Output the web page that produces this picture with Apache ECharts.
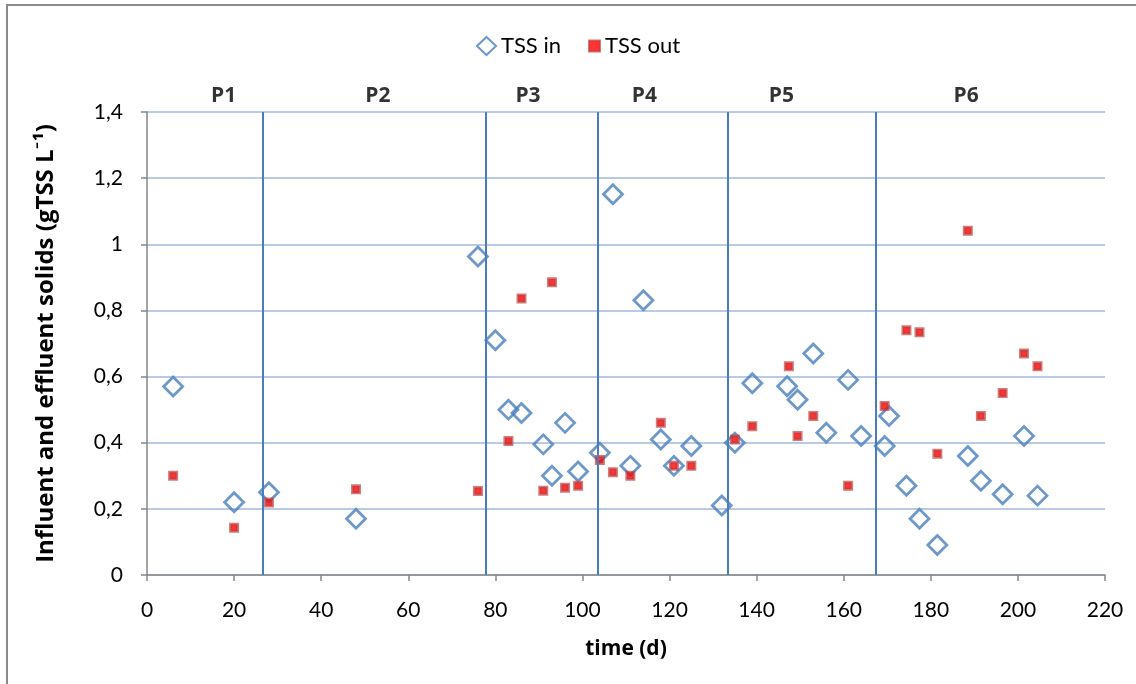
<!DOCTYPE html>
<html>
<head>
<meta charset="utf-8">
<script src="https://cdn.jsdelivr.net/npm/echarts@6/dist/echarts.min.js"></script>
<style>
  html, body { margin: 0; padding: 0; background: #ffffff; }
  #chart { width: 1136px; height: 684px; }
</style>
</head>
<body>
<div id="chart"></div>
<script>
// TSS in (influent), [day, g/L]
const tssInDays = [6, 20, 28, 48, 76, 80, 83, 86, 91, 93, 96, 99, 104, 107, 111, 114, 118, 121, 125, 132, 135, 139, 147, 149.4, 153, 156, 161, 164, 169.4, 170.4, 174.4, 177.4, 181.5, 188.5, 191.5, 196.5, 201.4, 204.5];
const tssInVals = [0.57, 0.22, 0.25, 0.17, 0.963, 0.71, 0.50, 0.49, 0.395, 0.30, 0.46, 0.313, 0.37, 1.151, 0.33, 0.831, 0.41, 0.33, 0.39, 0.21, 0.40, 0.58, 0.571, 0.53, 0.67, 0.43, 0.59, 0.42, 0.39, 0.481, 0.27, 0.17, 0.091, 0.36, 0.285, 0.244, 0.42, 0.24];

// TSS out (effluent)
const tssOutDays = [6, 20, 28, 48, 76, 83, 86, 91, 93, 96, 99, 104, 107, 111, 118, 121, 125, 135, 139, 147.4, 149.4, 153, 161, 169.4, 174.4, 177.4, 181.5, 188.5, 191.5, 196.5, 201.4, 204.5];
const tssOutVals = [0.30, 0.143, 0.219, 0.259, 0.254, 0.405, 0.836, 0.255, 0.885, 0.264, 0.27, 0.348, 0.311, 0.30, 0.46, 0.33, 0.33, 0.41, 0.45, 0.631, 0.42, 0.481, 0.27, 0.511, 0.74, 0.734, 0.367, 1.041, 0.481, 0.55, 0.67, 0.631];

// period boundaries and labels
const periodBounds = [26.6, 77.7, 103.5, 133.4, 167.3];
const periodNames = ["P1", "P2", "P3", "P4", "P5", "P6"];
const periodLabelX = [17.6, 53, 87.5, 114.2, 145.7, 188.1];

const FONT = 'Lato, "Open Sans", sans-serif';
const BOLD_FONT = '"Open Sans", Lato, sans-serif';
const AXIS_GREY = "#868686";
const BLUE = "#4a7ebb";

const chart = echarts.init(document.getElementById("chart"), null, { renderer: "canvas" });

const zip = (xs, ys) => xs.map((x, i) => [x, ys[i]]);

const legendText = { fontSize: 22, color: "#000", fontFamily: FONT };

chart.setOption({
  animation: false,
  textStyle: { fontFamily: FONT, color: "#000" },
  graphic: [
    {
      type: "polyline",
      shape: { points: [[7, 684], [7, 5], [1136, 5]] },
      style: { stroke: "#8a8a8a", lineWidth: 2, fill: null },
      silent: true,
    },
  ],
  // two legends so the square icon can be smaller than the diamond
  legend: [
    {
      top: 35,
      left: 476,
      padding: 0,
      data: ["TSS in"],
      itemWidth: 19,
      itemHeight: 18,
      textStyle: legendText,
    },
    {
      top: 35,
      left: 588,
      padding: 0,
      data: ["TSS out"],
      itemWidth: 11,
      itemHeight: 11,
      textStyle: legendText,
    },
  ],
  grid: { left: 147, right: 31, top: 112, bottom: 109 },
  xAxis: {
    type: "value",
    min: 0,
    max: 220,
    interval: 20,
    name: "time (d)",
    nameLocation: "middle",
    nameGap: 64,
    nameTextStyle: { fontSize: 21, fontWeight: "bold", color: "#000", fontFamily: BOLD_FONT },
    axisLine: { lineStyle: { color: AXIS_GREY, width: 1.5 } },
    axisTick: { length: 6, lineStyle: { color: AXIS_GREY, width: 1.5 } },
    axisLabel: { fontSize: 21, color: "#000", margin: 25 },
    splitLine: { show: false },
  },
  yAxis: {
    type: "value",
    min: 0,
    max: 1.4,
    interval: 0.2,
    name: "Influent and effluent solids (gTSS L\u207B\u00B9)",
    nameLocation: "middle",
    nameGap: 89,
    nameTextStyle: { fontSize: 24, fontWeight: "bold", color: "#000", fontFamily: BOLD_FONT },
    axisLine: { show: true, lineStyle: { color: AXIS_GREY, width: 1.5 } },
    axisTick: { show: true, length: 6, lineStyle: { color: AXIS_GREY, width: 1.5 } },
    axisLabel: {
      fontSize: 21,
      color: "#000",
      margin: 24,
      formatter: (v) => String(+v.toFixed(1)).replace(".", ","),
    },
    splitLine: { lineStyle: { color: "#b8cae6", width: 2 } },
  },
  series: [
    {
      name: "TSS in",
      type: "scatter",
      symbol: "diamond",
      symbolSize: 19,
      data: zip(tssInDays, tssInVals),
      itemStyle: { color: "rgba(255,255,255,0)", borderColor: BLUE, borderWidth: 2.8 },
      z: 3,
      markLine: {
        silent: true,
        symbol: "none",
        label: { show: false },
        lineStyle: { color: BLUE, width: 2, type: "solid" },
        data: periodBounds.map((x) => ({ xAxis: x })),
      },
    },
    {
      name: "TSS out",
      type: "scatter",
      symbol: "rect",
      symbolSize: 7,
      data: zip(tssOutDays, tssOutVals),
      itemStyle: { color: "#ff0000", borderColor: "rgba(190,60,60,0.85)", borderWidth: 3 },
      z: 4,
    },
    {
      name: "periods",
      type: "scatter",
      symbolSize: 0,
      silent: true,
      data: periodLabelX.map((x, i) => [x, 1.4, periodNames[i]]),
      label: {
        show: true,
        position: "top",
        distance: 5,
        formatter: (p) => p.data[2],
        fontSize: 21,
        fontWeight: "bold",
        color: "#000",
        fontFamily: BOLD_FONT,
      },
    },
  ],
});
</script>
</body>
</html>
